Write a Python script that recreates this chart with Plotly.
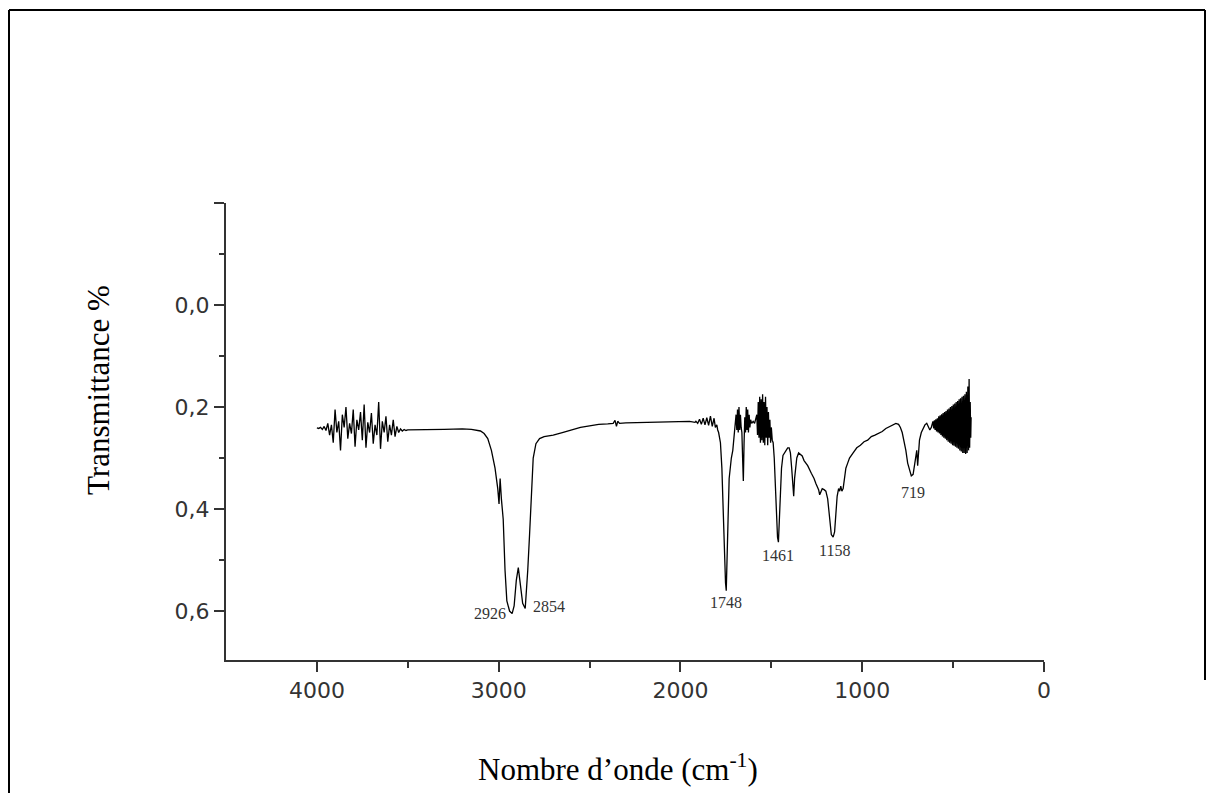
import plotly.graph_objects as go

# ---- Spectrum data (wavenumber cm-1, transmittance) ----
wn_noise_high = [4000, 3990, 3980, 3970, 3960, 3950, 3940, 3930, 3920, 3910,
                 3900, 3890, 3880, 3870, 3860, 3850, 3840, 3830, 3820, 3810,
                 3800, 3790, 3780, 3770, 3760, 3750, 3740, 3730, 3720, 3710,
                 3700, 3690, 3680, 3670, 3660, 3650, 3640, 3630, 3620, 3610,
                 3600, 3590, 3580, 3570, 3560, 3550, 3540, 3530, 3520, 3510, 3500]
t_noise_high = [0.241, 0.242, 0.240, 0.244, 0.238, 0.246, 0.232, 0.255, 0.235, 0.270,
                0.205, 0.250, 0.228, 0.285, 0.215, 0.240, 0.200, 0.262, 0.232, 0.252,
                0.205, 0.278, 0.225, 0.245, 0.210, 0.265, 0.195, 0.280, 0.230, 0.250,
                0.212, 0.272, 0.235, 0.255, 0.190, 0.282, 0.228, 0.250, 0.218, 0.268,
                0.235, 0.255, 0.225, 0.258, 0.238, 0.250, 0.243, 0.247, 0.244, 0.246, 0.245]

wn_ch = [3450, 3400, 3300, 3200, 3150, 3100, 3080, 3060, 3040, 3020, 3005, 2998, 2992,
         2985, 2975, 2965, 2955, 2940, 2926, 2915, 2903, 2892, 2880, 2868, 2854, 2846,
         2840, 2830, 2820, 2810, 2795, 2775, 2750, 2700, 2650, 2600, 2550, 2500, 2450,
         2400, 2370, 2360, 2352, 2345, 2335, 2300, 2200, 2100, 2000, 1950, 1920]
t_ch = [0.245, 0.244, 0.244, 0.243, 0.244, 0.247, 0.252, 0.262, 0.285, 0.320, 0.360, 0.390, 0.340,
        0.380, 0.420, 0.520, 0.580, 0.600, 0.605, 0.590, 0.540, 0.515, 0.550, 0.585, 0.595, 0.560,
        0.520, 0.450, 0.360, 0.300, 0.272, 0.262, 0.258, 0.255, 0.250, 0.245, 0.240, 0.237, 0.234,
        0.233, 0.232, 0.226, 0.238, 0.228, 0.232, 0.231, 0.230, 0.230, 0.229, 0.228, 0.230]

wn_co = [1915, 1905, 1895, 1885, 1875, 1865, 1855, 1845, 1835, 1825, 1815, 1808, 1800,
         1795, 1790, 1780, 1772, 1765, 1758, 1752, 1748, 1744, 1738, 1732, 1726, 1720]
t_co = [0.228, 0.232, 0.224, 0.234, 0.222, 0.235, 0.221, 0.236, 0.218, 0.238, 0.222, 0.240, 0.235,
        0.245, 0.250, 0.270, 0.320, 0.400, 0.490, 0.545, 0.560, 0.520, 0.420, 0.340, 0.310, 0.300]

wn_mid = [1712, 1706, 1700, 1694, 1690, 1686, 1682, 1678, 1674, 1670, 1666, 1662, 1658, 1654,
          1650, 1646, 1642, 1638, 1634, 1630, 1626, 1622, 1618, 1614, 1608, 1600, 1592, 1586,
          1580, 1576, 1572, 1568, 1564, 1560, 1556, 1552, 1548, 1544, 1540, 1536, 1532, 1528,
          1524, 1520, 1516, 1512, 1508, 1504, 1500, 1495, 1490, 1484, 1478, 1472, 1466, 1461,
          1456, 1450, 1444, 1436, 1428, 1420, 1410, 1402, 1395, 1388, 1382, 1377, 1372, 1366,
          1360, 1350, 1340, 1330, 1320, 1300, 1280, 1265, 1255, 1248, 1240, 1234, 1228, 1220,
          1210, 1200, 1190, 1180, 1170, 1160, 1152, 1145, 1138, 1130, 1124, 1118, 1112, 1105,
          1098, 1090, 1080, 1070, 1050, 1030, 1010, 990, 970, 950, 930, 910, 890, 870, 850,
          830, 815, 800, 790, 780, 770, 760, 750, 740, 730, 720, 712, 705, 700, 695, 690, 685,
          675, 665, 655, 645, 635, 628, 620]
t_mid = [0.285, 0.260, 0.240, 0.215, 0.245, 0.205, 0.250, 0.200, 0.245, 0.215, 0.240, 0.250, 0.300, 0.345,
         0.270, 0.220, 0.250, 0.200, 0.245, 0.205, 0.250, 0.215, 0.240, 0.225, 0.232, 0.228, 0.232, 0.225,
         0.215, 0.255, 0.190, 0.260, 0.180, 0.270, 0.185, 0.265, 0.175, 0.270, 0.190, 0.275, 0.180, 0.260,
         0.200, 0.275, 0.210, 0.260, 0.225, 0.270, 0.240, 0.265, 0.270, 0.300, 0.360, 0.420, 0.455, 0.465,
         0.430, 0.360, 0.320, 0.295, 0.290, 0.285, 0.280, 0.280, 0.290, 0.320, 0.360, 0.375, 0.340, 0.320,
         0.300, 0.290, 0.293, 0.296, 0.305, 0.315, 0.330, 0.340, 0.350, 0.355, 0.362, 0.372, 0.365, 0.360,
         0.362, 0.365, 0.380, 0.420, 0.450, 0.455, 0.445, 0.410, 0.375, 0.360, 0.365, 0.355, 0.365, 0.360,
         0.340, 0.320, 0.310, 0.300, 0.290, 0.280, 0.275, 0.268, 0.265, 0.258, 0.255, 0.252, 0.248, 0.242, 0.238,
         0.235, 0.232, 0.234, 0.240, 0.250, 0.265, 0.285, 0.310, 0.325, 0.335, 0.332, 0.310, 0.290, 0.285, 0.315, 0.285, 0.265,
         0.250, 0.242, 0.235, 0.232, 0.240, 0.245, 0.240]

wn_low = [615, 611, 607, 603, 599, 595, 591, 587, 583, 579, 575, 571, 567, 563, 559, 555,
          551, 547, 543, 539, 535, 531, 527, 523, 519, 515, 511, 507, 503, 499, 495, 491,
          487, 483, 479, 475, 471, 467, 463, 459, 455, 451, 447, 443, 439, 435, 431, 427,
          423, 419, 415, 412, 409, 406, 403, 401]
t_low = [0.235, 0.228, 0.242, 0.226, 0.245, 0.224, 0.248, 0.222, 0.250, 0.218, 0.252, 0.216, 0.255, 0.214, 0.258, 0.212,
         0.260, 0.210, 0.262, 0.208, 0.265, 0.205, 0.268, 0.203, 0.270, 0.200, 0.272, 0.198, 0.275, 0.195, 0.276, 0.193,
         0.278, 0.190, 0.280, 0.188, 0.282, 0.185, 0.285, 0.183, 0.287, 0.180, 0.290, 0.178, 0.290, 0.175, 0.292, 0.170,
         0.290, 0.160, 0.285, 0.145, 0.280, 0.190, 0.260, 0.220]

wavenumber = wn_noise_high + wn_ch + wn_co + wn_mid + wn_low
transmittance = t_noise_high + t_ch + t_co + t_mid + t_low

# Peak labels
peak_labels = ["2926", "2854", "1748", "1461", "1158", "719"]
peak_wn = [2926, 2854, 1748, 1461, 1158, 725]

x_ticks = [4000, 3000, 2000, 1000, 0]
x_minor = [3500, 2500, 1500, 500]
y_ticks = [-0.2, 0.0, 0.2, 0.4, 0.6]
y_ticktext = ["", "0,0", "0,2", "0,4", "0,6"]
y_minor = [-0.1, 0.1, 0.3, 0.5]

fig = go.Figure()
fig.add_trace(go.Scatter(x=wavenumber, y=transmittance, mode="lines",
                         line=dict(color="black", width=1.3), hoverinfo="skip",
                         showlegend=False))

# placements (xanchor, yanchor, xshift, yshift) for each label
placements = [("right", "middle", -4, 0), ("left", "middle", 6, 2), ("center", "top", 0, -1),
              ("center", "top", 0, -3), ("center", "top", 1, -3), ("center", "top", 2, -6)]
for lab, w, (xa, ya, xs, ys) in zip(peak_labels, peak_wn, placements):
    i = min(range(len(wavenumber)), key=lambda k: abs(wavenumber[k] - w))
    fig.add_annotation(x=wavenumber[i], y=transmittance[i], xref="x", yref="y",
                       text=lab, showarrow=False, xanchor=xa, yanchor=ya,
                       xshift=xs, yshift=ys,
                       font=dict(family="Liberation Serif, Times New Roman, serif", size=16, color="#333"))

L, R, T, B = 226, 1044, 203, 660
W, H = 1209, 793
pw, ph = R - L, B - T

def px(xp):
    return (xp - L) / pw

def py(yp):
    return (B - yp) / ph

# Axis titles
fig.add_annotation(x=px(618), y=py(767), xref="paper", yref="paper",
                   text="Nombre d’onde (cm<sup>-1</sup>)", showarrow=False,
                   xanchor="center", yanchor="middle",
                   font=dict(family="Liberation Serif, Times New Roman, serif", size=31, color="black"))
fig.add_annotation(x=px(98), y=py(390), xref="paper", yref="paper",
                   text="Transmittance %", showarrow=False, textangle=-90,
                   xanchor="center", yanchor="middle",
                   font=dict(family="Liberation Serif, Times New Roman, serif", size=31, color="black"))

# Outer frame lines
frame = dict(color="black", width=2)
fig.add_shape(type="line", xref="paper", yref="paper", x0=px(9), x1=px(9), y0=py(10), y1=py(793), line=frame)
fig.add_shape(type="line", xref="paper", yref="paper", x0=px(9), x1=px(1205), y0=py(10), y1=py(10), line=frame)
fig.add_shape(type="line", xref="paper", yref="paper", x0=px(1205), x1=px(1205), y0=py(10), y1=py(680), line=frame)

tickfont = dict(family="DejaVu Sans, Arial, sans-serif", size=22, color="#333")
fig.update_layout(
    width=W, height=H,
    margin=dict(l=L, r=W - R, t=T, b=H - B, pad=0),
    paper_bgcolor="white", plot_bgcolor="white",
    separators=", ",
    xaxis=dict(range=[4500, 0], tickvals=x_ticks, ticktext=[str(v) for v in x_ticks],
               showline=True, linecolor="#333", linewidth=2, ticks="outside",
               ticklen=10, tickwidth=2, tickcolor="#333", showgrid=False, zeroline=False,
               tickfont=tickfont,
               minor=dict(tickvals=x_minor, ticks="outside", ticklen=6, tickwidth=2, tickcolor="#333")),
    yaxis=dict(range=[0.696, -0.2], tickvals=y_ticks, ticktext=y_ticktext,
               showline=True, linecolor="#333", linewidth=2, ticks="outside",
               ticklen=10, tickwidth=2, tickcolor="#333", showgrid=False, zeroline=False,
               tickfont=tickfont,
               minor=dict(tickvals=y_minor, ticks="outside", ticklen=5, tickwidth=2, tickcolor="#333")),
)

fig.write_html("out.html")
